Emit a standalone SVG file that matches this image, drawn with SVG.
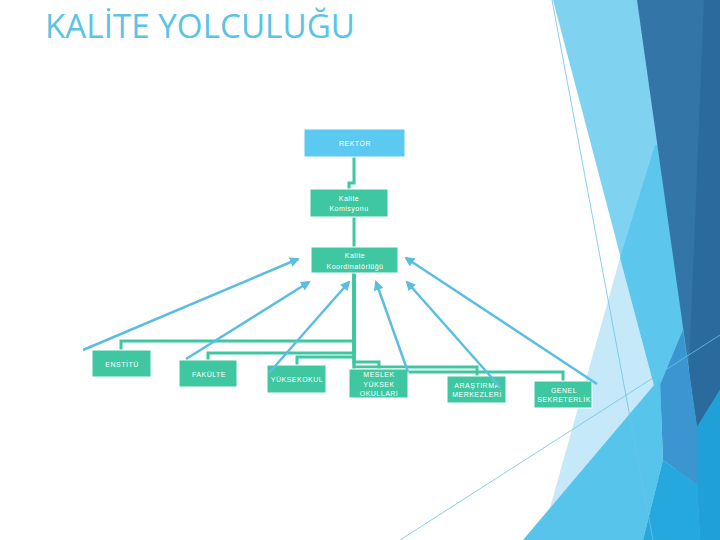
<svg xmlns="http://www.w3.org/2000/svg" width="720" height="540" viewBox="0 0 720 540">
<defs>
<style>
.node{fill:#3EC7A1;stroke:#ffffff;stroke-width:1}
.rek{fill:#5CC9F0;stroke:#ffffff;stroke-width:1}
.lbl{font-family:"Liberation Sans",Arial,sans-serif;font-size:7px;fill:#ffffff;text-anchor:middle;letter-spacing:0.5px}
.conn{fill:none;stroke:#3EC7A1;stroke-width:3}
.arr{fill:none;stroke:#5BBEE0;stroke-width:2.5;marker-end:url(#ah)}
.thin{fill:none;stroke:#6CC3E6;stroke-width:0.8}
</style>
<marker id="ah" viewBox="0 0 10 10" refX="8" refY="5" markerWidth="4" markerHeight="4" orient="auto" markerUnits="strokeWidth">
<path d="M0,0 L10,5 L0,10 Z" fill="#5BBEE0"/>
</marker>
</defs>
<rect width="720" height="540" fill="#ffffff"/>
<g id="background">
<polygon points="553,0 720,0 720,540 695,540" fill="#7FD3F1"/>
<polygon points="620,258 541,540 695,540" fill="#C5E9F8"/>
<polygon points="655,145 620,258 695,540 720,540 720,145" fill="#5CC6EC"/>
<polygon points="637,0 720,0 720,390 697,427" fill="#3275A6"/>
<polygon points="704,0 720,0 720,390 697,427 689,370" fill="#2B6A9C"/>
<polygon points="683,330 697,427 697,485 663,460 660,385" fill="#3A95D0"/>
<polygon points="523,540 660,378 663,460 643,540" fill="#57C4EB"/>
<polygon points="643,540 663,460 697,485 700,540" fill="#24A8DE"/>
<polygon points="697,427 720,390 720,540 700,540 697,485" fill="#1FA0D6"/>
<line class="thin" x1="552" y1="0" x2="653" y2="540"/>
<line class="thin" x1="400" y1="540" x2="720" y2="335"/>
</g>
<text x="45" y="38" font-family="'Open Sans','DejaVu Sans',sans-serif" font-size="32" fill="#5BC3E6" textLength="310" lengthAdjust="spacingAndGlyphs">KALİTE YOLCULUĞU</text>
<g id="connectors">
<path class="conn" d="M354,157 V183 H349 V189"/>
<path class="conn" d="M354,217 V247"/>
<path class="conn" d="M354,273 V341 H121 V350"/>
<path class="conn" d="M354,273 V353 H208 V360"/>
<path class="conn" d="M354,273 V357 H297 V365"/>
<path class="conn" d="M354,273 V362 H379 V370"/>
<path class="conn" d="M354,273 V367 H477 V376"/>
<path class="conn" d="M354,273 V372 H563 V381"/>
</g>
<g id="rektor"><rect class="rek" x="304" y="129" width="101" height="28"/><text class="lbl" x="355" y="146">REKTÖR</text></g>
<g id="komisyon"><rect class="node" x="310" y="189" width="78" height="28"/><text class="lbl" x="349" y="201">Kalite</text><text class="lbl" x="349" y="211">Komisyonu</text></g>
<g id="koordinatorluk"><rect class="node" x="311" y="247" width="87" height="26"/><text class="lbl" x="355" y="258">Kalite</text><text class="lbl" x="355" y="269">Koordinatörlüğü</text></g>
<g id="enstitu"><rect class="node" x="92" y="350" width="59" height="27"/><text class="lbl" x="122" y="367">ENSTİTÜ</text></g>
<g id="fakulte"><rect class="node" x="179" y="360" width="58" height="27"/><text class="lbl" x="209" y="377">FAKÜLTE</text></g>
<g id="yuksekokul"><rect class="node" x="267" y="365" width="59" height="28"/><text class="lbl" x="297" y="382">YÜKSEKOKUL</text></g>
<g id="myo"><rect class="node" x="349" y="369" width="59" height="29"/><text class="lbl" x="379" y="377">MESLEK</text><text class="lbl" x="379" y="386.5">YÜKSEK</text><text class="lbl" x="379" y="396">OKULLARI</text></g>
<g id="arastirma"><rect class="node" x="447" y="376" width="59" height="27"/><text class="lbl" x="477" y="388">ARAŞTIRMA</text><text class="lbl" x="477" y="397">MERKEZLERİ</text></g>
<g id="genel"><rect class="node" x="534" y="381" width="58" height="27"/><text class="lbl" x="564" y="393">GENEL</text><text class="lbl" x="564" y="402">SEKRETERLİK</text></g>
<g id="arrows">
<line class="arr" x1="83" y1="350" x2="298" y2="259"/>
<line class="arr" x1="186" y1="359" x2="309" y2="282"/>
<line class="arr" x1="269" y1="373" x2="349" y2="282"/>
<line class="arr" x1="408" y1="372" x2="376" y2="282"/>
<line class="arr" x1="500" y1="387" x2="407" y2="282"/>
<line class="arr" x1="597" y1="384" x2="406" y2="258"/>
</g>
</svg>
